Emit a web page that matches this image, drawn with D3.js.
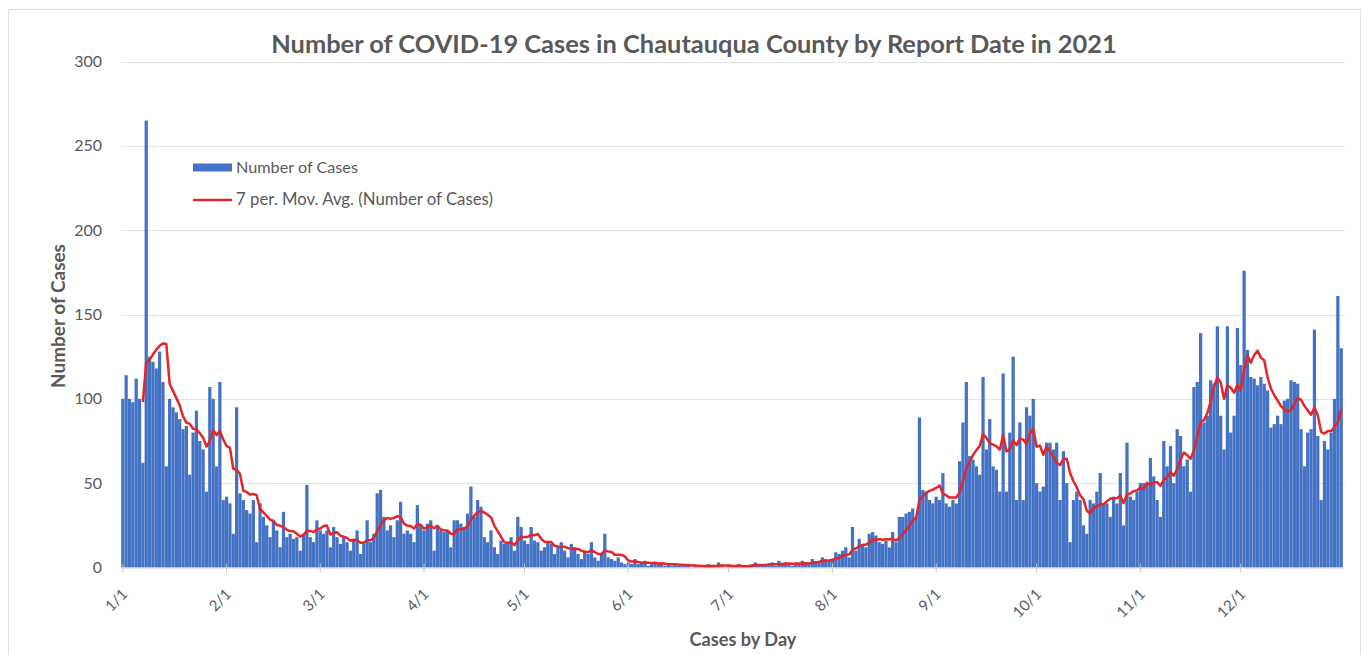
<!DOCTYPE html>
<html><head><meta charset="utf-8">
<script src="https://cdn.jsdelivr.net/npm/d3@7/dist/d3.min.js"></script>
<style>
body{margin:0;background:#fff}
svg{display:block}
text{font-family:Lato,"Open Sans",sans-serif;fill:#595959}
</style>
</head><body>
<svg id="chart" width="1369" height="655"></svg>
<script>
// Daily reported cases, 2021, one array per month
const jan=[100,114,100,98,112,100,62,265,125,122,118,128,110,60,100,95,92,88,82,84,55,80,93,75,70,45,107,100,60,110,40];
const feb=[42,38,20,95,44,40,34,32,40,15,38,30,25,18,28,22,12,33,18,20,17,18,10,20,49,18,15,28];
const mar=[22,20,22,12,24,18,14,18,15,10,16,22,8,14,28,15,20,44,46,30,22,25,18,28,39,20,22,20,15,37,25];
const apr=[22,26,28,10,25,22,21,22,12,28,28,26,24,32,48,30,40,36,18,15,22,12,8,16,14,15,18,10,30,24];
const may=[16,14,24,16,15,10,12,15,14,8,12,15,10,6,14,12,8,5,10,8,15,6,4,8,20,6,5,4,6,3,2];
const jun=[3,2,5,2,3,4,1,2,3,2,3,1,2,1,2,1,1,2,1,0,1,1,0,1,2,1,0,3,1,0];
const jul=[1,0,1,2,1,0,1,2,3,1,2,1,2,3,1,4,2,3,2,1,3,2,4,3,2,5,3,4,6,5,4];
const aug=[5,9,8,10,12,6,24,10,17,14,12,20,21,19,15,14,16,12,21,15,30,30,32,33,35,30,89,46,45,40,38];
const sep=[42,40,56,38,36,40,38,63,86,110,66,64,60,55,113,70,88,60,58,45,115,45,80,125,40,86,40,95,90,100];
const oct=[50,45,48,74,74,70,74,40,69,50,15,40,45,40,25,20,40,38,45,56,38,38,30,42,38,56,25,74,42,40,45];
const nov=[50,50,50,65,54,40,30,75,60,72,50,82,78,60,64,45,107,110,139,86,90,111,109,143,90,70,143,80,90,142];
const dec=[120,176,129,113,112,108,113,109,105,83,85,90,85,99,100,111,110,109,82,60,80,82,141,78,40,75,70,80,100,161,130];

const monthLabels=["1/1","2/1","3/1","4/1","5/1","6/1","7/1","8/1","9/1","10/1","11/1","12/1"];
const yTicks=[0,50,100,150,200,250,300];
const maPeriod=7;
const seriesNames=["Number of Cases","7 per. Mov. Avg. (Number of Cases)"];

const cases=[].concat(jan,feb,mar,apr,may,jun,jul,aug,sep,oct,nov,dec);
const dates=cases.map((v,i)=>new Date(2021,0,1+i));
const monthStarts=d3.range(cases.length).filter(i=>dates[i].getDate()===1);
const movAvg=cases.map((v,i)=>i<maPeriod-1?null:d3.mean(cases.slice(i-maPeriod+1,i+1)));

const svg=d3.select("#chart");
const BLUE="#4472C4", RED="#E3262A";

function fit(sel,target){
  const w=sel.node().getComputedTextLength();
  const fs=parseFloat(sel.attr("font-size"));
  if(w>0) sel.attr("font-size",fs*target/w);
  return sel;
}

// outer border
svg.append("rect").attr("x",8.5).attr("y",9.5).attr("width",1352).attr("height",660)
  .attr("fill","none").attr("stroke","#e3e3e3");

const x=d3.scaleBand().domain(d3.range(cases.length)).range([121,1343]).paddingInner(0.03).paddingOuter(0.05);
const y=d3.scaleLinear().domain([0,300]).range([567.5,61.5]);

// gridlines
svg.append("g").selectAll("line").data(yTicks.filter(d=>d>0)).join("line")
  .attr("x1",121).attr("x2",1345).attr("y1",d=>Math.round(y(d))+0.5).attr("y2",d=>Math.round(y(d))+0.5)
  .attr("stroke","#e4e4e4").attr("stroke-width",1);

// y tick labels
svg.append("g").selectAll("text").data(yTicks).join("text")
  .attr("x",102).attr("y",d=>y(d)).attr("dy","0.35em").attr("text-anchor","end")
  .attr("font-size",16).text(d=>d);

// bars
svg.append("g").selectAll("rect").data(cases).join("rect")
  .attr("x",(d,i)=>x(i)).attr("width",x.bandwidth())
  .attr("y",d=>y(d)).attr("height",d=>y(0)-y(d))
  .attr("fill",BLUE);

// x axis
const xAxis=d3.axisBottom(x).tickValues(monthStarts).tickFormat((d,i)=>monthLabels[i]).tickSize(5).tickSizeOuter(0);
const gx=svg.append("g").attr("transform",`translate(0,${y(0)})`).call(xAxis);
gx.select(".domain").attr("stroke","#d0d0d0");
gx.selectAll(".tick line").attr("stroke","#c8c8c8").attr("y1",-4);
gx.selectAll(".tick text")
  .attr("font-family","Lato,'Open Sans',sans-serif").attr("font-size",15).attr("fill","#595959")
  .attr("text-anchor","end").attr("x",0).attr("y",0).attr("dy","0.35em")
  .attr("transform","translate(2,24) rotate(-45)");

// moving average line
const line=d3.line().defined(d=>d!==null).x((d,i)=>x(i)+x.bandwidth()/2).y(d=>y(d));
svg.append("path").datum(movAvg).attr("d",line)
  .attr("fill","none").attr("stroke",RED).attr("stroke-width",2.5).attr("stroke-linejoin","round");

// title
fit(svg.append("text").attr("x",694).attr("y",44).attr("dy","0.35em").attr("text-anchor","middle")
  .attr("font-size",24).attr("font-weight","bold")
  .text("Number of COVID-19 Cases in Chautauqua County by Report Date in 2021"),846);

// axis titles
fit(svg.append("text").attr("transform","translate(58,316) rotate(-90)").attr("dy","0.35em")
  .attr("text-anchor","middle").attr("font-size",17).attr("font-weight","bold").text("Number of Cases"),144);
fit(svg.append("text").attr("x",743).attr("y",640).attr("dy","0.35em")
  .attr("text-anchor","middle").attr("font-size",16).attr("font-weight","bold").text("Cases by Day"),107);

// legend
const lg=svg.append("g");
lg.append("rect").attr("x",193).attr("y",163.5).attr("width",39).attr("height",8).attr("fill",BLUE);
fit(lg.append("text").attr("x",236).attr("y",167.5).attr("dy","0.35em").attr("font-size",14).text(seriesNames[0]),122);
lg.append("line").attr("x1",193).attr("x2",232).attr("y1",200).attr("y2",200).attr("stroke",RED).attr("stroke-width",2.5);
fit(lg.append("text").attr("x",236).attr("y",199.5).attr("dy","0.35em").attr("font-size",14).text(seriesNames[1]),257);
</script>
</body></html>
